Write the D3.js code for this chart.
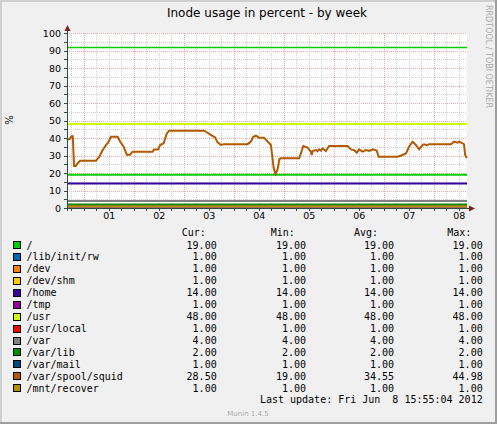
<!DOCTYPE html>
<html>
<head>
<meta charset="utf-8">
<script src="https://cdn.jsdelivr.net/npm/d3@7"></script>
<style>
  html, body { margin: 0; padding: 0; background: #f0f0f0; }
  svg { display: block; }
</style>
</head>
<body>
<svg id="chart"></svg>
<script>
// series names, colours, and summary columns (Cur / Min / Avg / Max)
var names = ["/", "/lib/init/rw", "/dev", "/dev/shm", "/home", "/tmp", "/usr",
             "/usr/local", "/var", "/var/lib", "/var/mail", "/var/spool/squid", "/mnt/recover"];
var colors = ["#00CC00", "#0066B3", "#FF8000", "#FFCC00", "#330099", "#990099", "#CCFF00",
              "#FF0000", "#808080", "#008F00", "#00487D", "#B35A00", "#B38F00"];
var curValues = [19.00, 1.00, 1.00, 1.00, 14.00, 1.00, 48.00, 1.00, 4.00, 2.00, 1.00, 28.50, 1.00];
var minValues = [19.00, 1.00, 1.00, 1.00, 14.00, 1.00, 48.00, 1.00, 4.00, 2.00, 1.00, 19.00, 1.00];
var avgValues = [19.00, 1.00, 1.00, 1.00, 14.00, 1.00, 48.00, 1.00, 4.00, 2.00, 1.00, 34.55, 1.00];
var maxValues = [19.00, 1.00, 1.00, 1.00, 14.00, 1.00, 48.00, 1.00, 4.00, 2.00, 1.00, 44.98, 1.00];

// /var/spool/squid: hours after Jun 1 00:00, and value in percent
var squidHours = [-8.1, -6.7, -5.9, -5.3, -4.9, -4.7, -3.8, -3.0, -1.8, 5.8, 7.3, 9.0, 10.6, 11.7,
  13.0, 16.2, 17.4, 19.1, 20.6, 22.2, 23.4, 33.0, 33.7, 35.7, 36.6, 38.3, 39.8, 40.9, 57.7, 59.4,
  61.3, 62.9, 64.2, 65.8, 67.3, 78.6, 80.2, 81.3, 82.6, 84.1, 86.5, 88.2, 89.8, 90.4, 91.1, 92.0,
  93.0, 93.9, 94.6, 103.3, 104.2, 105.3, 107.4, 109.0, 109.4, 109.8, 111.4, 112.2, 112.9, 113.8,
  114.6, 116.2, 117.7, 126.6, 128.2, 129.7, 131.0, 132.1, 133.8, 135.4, 137.0, 138.6, 140.6, 141.5,
  150.6, 153.0, 154.6, 156.1, 157.8, 159.4, 160.9, 162.6, 163.3, 164.6, 165.7, 176.2, 177.7, 179.4,
  180.1, 181.8, 182.5, 183.0, 183.8];
var squidValues = [39, 39.5, 41, 41, 29.5, 24, 24, 25.5, 27, 27, 29, 33, 36, 37.5,
  40.7, 40.7, 38, 35, 30.5, 30.5, 32.2, 32.2, 33.5, 33.5, 36, 37, 42.5, 44.2, 44.2, 43,
  41.5, 40.5, 37.5, 36, 36.5, 36.5, 38, 40.7, 41.3, 40.2, 40.2, 38, 36, 30, 23, 19.5,
  22, 28, 28.4, 28.4, 31.2, 35.4, 34.5, 32.2, 30.3, 32.5, 33.1, 32.5, 33.5, 32.8,
  34, 32.5, 35.4, 35.4, 33.5, 33.1, 31.6, 33.5, 32.2, 33.1, 32.6, 33.5, 32.8, 29.3,
  29.3, 30.3, 31.2, 35, 37.9, 36, 33.5, 36, 36.4, 35.9, 36.4, 36.4, 37.9, 37.3,
  37.9, 37, 36.4, 30.5, 28.5];

var warningLevel = 92;
var yTicks = [0, 10, 20, 30, 40, 50, 60, 70, 80, 90, 100];
var dayLabels = ["01", "02", "03", "04", "05", "06", "07", "08"];
var title = "Inode usage in percent - by week";
var lastUpdate = "Last update: Fri Jun  8 15:55:04 2012";

var W = 497, H = 424;
var svg = d3.select("#chart").attr("width", W).attr("height", H);

var base = new Date(2012, 5, 1, 0, 0, 0);
function hoursToDate(h) { return new Date(base.getTime() + h * 3600e3); }
var endTime = new Date(2012, 5, 8, 15, 55, 4);
var startTime = new Date(endTime.getTime() - 8 * 24 * 3600e3);

var x = d3.scaleTime().domain([startTime, endTime]).range([67, 467]);
var y = d3.scaleLinear().domain([0, 100]).range([208, 33]);

// background + 3D frame
svg.append("rect").attr("width", W).attr("height", H).attr("fill", "#f0f0f0");
svg.append("rect").attr("x", 0).attr("y", 0).attr("width", W).attr("height", 2).attr("fill", "#cfcfcf");
svg.append("rect").attr("x", 0).attr("y", 0).attr("width", 2).attr("height", H).attr("fill", "#cfcfcf");
svg.append("rect").attr("x", 0).attr("y", H - 2).attr("width", W).attr("height", 2).attr("fill", "#9e9e9e");
svg.append("rect").attr("x", W - 2).attr("y", 0).attr("width", 2).attr("height", H).attr("fill", "#9e9e9e");

// canvas
svg.append("rect").attr("x", 67).attr("y", 33).attr("width", 400).attr("height", 175).attr("fill", "#ffffff");

// grid
var grid = svg.append("g").attr("shape-rendering", "crispEdges");
var minorY = d3.range(5, 101, 10);
grid.selectAll(".gy").data(minorY).enter().append("line")
  .attr("x1", 67).attr("x2", 467)
  .attr("y1", function(d) { return Math.round(y(d)) + 0.5; })
  .attr("y2", function(d) { return Math.round(y(d)) + 0.5; })
  .attr("stroke", "#d0d0d0").attr("stroke-dasharray", "1,1");
grid.selectAll(".my").data(yTicks.slice(1)).enter().append("line")
  .attr("x1", 67).attr("x2", 467)
  .attr("y1", function(d) { return Math.round(y(d)) + 0.5; })
  .attr("y2", function(d) { return Math.round(y(d)) + 0.5; })
  .attr("stroke", "#f2a8a8").attr("stroke-dasharray", "1,1");

var sixHours = d3.timeHour.every(6).range(startTime, endTime).filter(function(d) { return d.getHours() !== 0; });
var midnights = d3.timeDay.range(startTime, endTime);
grid.selectAll(".gx").data(sixHours).enter().append("line")
  .attr("y1", 33).attr("y2", 208)
  .attr("x1", function(d) { return Math.round(x(d)) + 0.5; })
  .attr("x2", function(d) { return Math.round(x(d)) + 0.5; })
  .attr("stroke", "#d0d0d0").attr("stroke-dasharray", "1,1");
grid.selectAll(".mx").data(midnights).enter().append("line")
  .attr("y1", 33).attr("y2", 208)
  .attr("x1", function(d) { return Math.round(x(d)) + 0.5; })
  .attr("x2", function(d) { return Math.round(x(d)) + 0.5; })
  .attr("stroke", "#f2a8a8").attr("stroke-dasharray", "1,1");

// warning rule
svg.append("line").attr("x1", 67).attr("x2", 467)
  .attr("y1", Math.round(y(warningLevel)) + 0.5).attr("y2", Math.round(y(warningLevel)) + 0.5)
  .attr("stroke", colors[0]).attr("stroke-width", 1.3);

// series lines
var series = names.map(function(n, i) {
  if (n === "/var/spool/squid") {
    return squidHours.map(function(h, j) { return [hoursToDate(h), squidValues[j]]; });
  }
  return [[startTime, curValues[i]], [endTime, curValues[i]]];
});
var line = d3.line()
  .x(function(d) { return x(d[0]); })
  .y(function(d) { return y(d[1]); });
svg.append("g").selectAll("path").data(series).enter().append("path")
  .attr("d", line)
  .attr("fill", "none")
  .attr("stroke-width", 2)
  .attr("stroke-linejoin", "miter")
  .attr("stroke", function(d, i) { return colors[i]; });

// axes lines + arrows
var axisColor = "#2c4d43";
svg.append("line").attr("x1", 67.5).attr("x2", 67.5).attr("y1", 211).attr("y2", 29)
  .attr("stroke", axisColor).attr("shape-rendering", "crispEdges");
svg.append("line").attr("x1", 64).attr("x2", 470).attr("y1", 208.5).attr("y2", 208.5)
  .attr("stroke", axisColor).attr("shape-rendering", "crispEdges");
svg.append("path").attr("d", "M64.5,31L67.5,25L70.5,31Z").attr("fill", "#7f1f1f");
svg.append("path").attr("d", "M469,205.5L475,208.5L469,211.5Z").attr("fill", "#7f1f1f");

// tick marks
svg.append("g").attr("shape-rendering", "crispEdges").selectAll("line")
  .data(sixHours.concat(midnights)).enter().append("line")
  .attr("x1", function(d) { return Math.round(x(d)) + 0.5; })
  .attr("x2", function(d) { return Math.round(x(d)) + 0.5; })
  .attr("y1", 208).attr("y2", 211).attr("stroke", axisColor);
svg.append("g").attr("shape-rendering", "crispEdges").selectAll("line")
  .data(d3.range(0, 101, 5)).enter().append("line")
  .attr("y1", function(d) { return Math.round(y(d)) + 0.5; })
  .attr("y2", function(d) { return Math.round(y(d)) + 0.5; })
  .attr("x1", 64).attr("x2", 67).attr("stroke", axisColor);

// axis labels via d3 axes
var yAxis = d3.axisLeft(y).tickValues(yTicks).tickSize(0).tickPadding(0);
var gy = svg.append("g").attr("transform", "translate(61,0)").call(yAxis);
gy.select(".domain").remove();
gy.selectAll("text").attr("font-family", "DejaVu Sans").attr("font-size", 9.5).attr("fill", "#000");

var noonTicks = dayLabels.map(function(s) { return new Date(2012, 5, +s, 12, 0, 0); });
var xAxis = d3.axisBottom(x).tickValues(noonTicks).tickSize(0).tickPadding(0)
  .tickFormat(function(d, i) { return dayLabels[i]; });
var gx = svg.append("g").attr("transform", "translate(0,212)").call(xAxis);
gx.select(".domain").remove();
gx.selectAll("text").attr("font-family", "DejaVu Sans").attr("font-size", 9.5).attr("fill", "#000");

// title and side texts
svg.append("text").attr("x", 267).attr("y", 17).attr("text-anchor", "middle")
  .attr("font-family", "DejaVu Sans").attr("font-size", 12).text(title);
svg.append("text").attr("transform", "translate(13,120) rotate(-90)").attr("text-anchor", "middle")
  .attr("font-family", "DejaVu Sans").attr("font-size", 10).text("%");
svg.append("text").attr("transform", "translate(486,5) rotate(90)").attr("text-anchor", "start")
  .attr("font-family", "DejaVu Sans").attr("font-size", 8).attr("fill", "#aaaaaa")
  .text("RRDTOOL / TOBI OETIKER");

// legend
var mono = "DejaVu Sans Mono";
var rowY = function(i) { return 248.5 + i * 11.94; };
var headers = [["Cur:", 181.7], ["Min:", 270.7], ["Avg:", 354], ["Max:", 447.3]];
svg.append("g").selectAll("text").data(headers).enter().append("text")
  .attr("x", function(d) { return d[1]; }).attr("y", 236)
  .attr("font-family", mono).attr("font-size", 10).text(function(d) { return d[0]; });

var leg = svg.append("g").selectAll("g").data(names).enter().append("g");
leg.append("rect")
  .attr("x", 13.5).attr("y", function(d, i) { return Math.round(rowY(i) - 7.5) + 0.5; })
  .attr("width", 7).attr("height", 7)
  .attr("fill", function(d, i) { return colors[i]; })
  .attr("stroke", "#000").attr("shape-rendering", "crispEdges");
leg.append("text").attr("x", 26.5).attr("y", function(d, i) { return rowY(i); })
  .attr("font-family", mono).attr("font-size", 10).text(function(d) { return d; });

var cols = [[curValues, 216.7], [minValues, 306], [avgValues, 394], [maxValues, 482.7]];
cols.forEach(function(c) {
  leg.append("text").attr("x", c[1]).attr("y", function(d, i) { return rowY(i); })
    .attr("text-anchor", "end").attr("font-family", mono).attr("font-size", 10)
    .text(function(d, i) { return c[0][i].toFixed(2); });
});

svg.append("text").attr("x", 482.7).attr("y", 403).attr("text-anchor", "end")
  .attr("font-family", mono).attr("font-size", 10).attr("xml:space", "preserve")
  .style("white-space", "pre").text(lastUpdate);

svg.append("text").attr("x", 248).attr("y", 416).attr("text-anchor", "middle")
  .attr("font-family", "DejaVu Sans").attr("font-size", 7).attr("fill", "#aaaaaa")
  .text("Munin 1.4.5");
</script>
</body>
</html>
